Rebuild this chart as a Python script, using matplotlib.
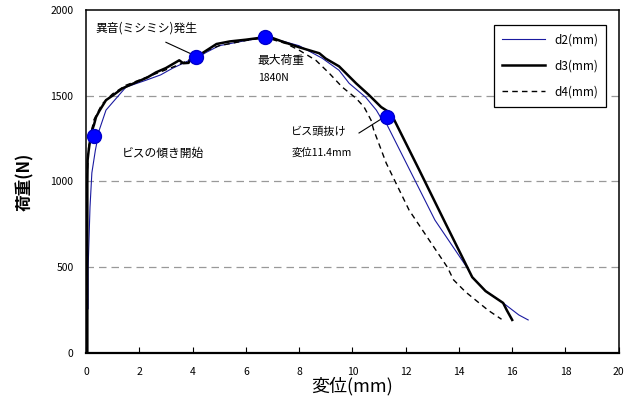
import numpy as np
import matplotlib
matplotlib.use("Agg")
import matplotlib.pyplot as plt

plt.rcParams['font.family'] = ['Noto Sans CJK JP', 'DejaVu Sans']

# d2 (blue thin)
d2_x = [0.04, 0.04, 0.08, 0.08, 0.15, 0.22, 0.35, 0.5, 0.75, 1.0, 1.5, 2.25, 2.8, 3.24,
        3.88, 4.14, 4.5, 5.0, 5.5, 6.0, 6.73, 7.3, 8.0, 8.87, 9.5, 9.88, 10.5, 10.9,
        11.12, 11.3, 13.1, 14.3, 14.5, 15.0, 15.66, 16.25, 16.6]
d2_y = [0, 250, 260, 500, 850, 1050, 1180, 1300, 1415, 1460, 1549, 1589, 1620, 1658,
        1705, 1715, 1750, 1790, 1805, 1820, 1838, 1820, 1790, 1717, 1647, 1571, 1490, 1415,
        1357, 1330, 775, 500, 443, 362, 293, 223, 194]

# d3 (black thick)
d3_x = [0.05, 0.05, 0.06, 0.1, 0.19, 0.3, 0.375, 0.5, 0.75, 1.0, 1.37, 1.88, 2.3, 2.63,
        3.0, 3.5, 3.65, 3.85, 4.0, 4.2, 4.6, 4.9, 5.4, 6.0, 6.73, 7.0, 7.3, 8.0, 8.76,
        9.0, 9.5, 10.14, 10.63, 11.08, 11.45, 12.5, 13.5, 14.5, 15.0, 15.66, 15.8, 16.0]
d3_y = [0, 990, 1124, 1180, 1280, 1330, 1374, 1410, 1473, 1500, 1542, 1577, 1605, 1635,
        1660, 1705, 1688, 1690, 1734, 1730, 1770, 1800, 1815, 1825, 1840, 1835, 1818, 1781, 1746,
        1715, 1670, 1571, 1502, 1433, 1396, 1070, 755, 443, 362, 293, 250, 194]

# d4 (black dashed)
d4_x = [0.03, 0.03, 0.1, 0.2, 0.3, 0.6, 1.0, 1.5, 2.0, 2.5, 3.0, 3.5, 4.0, 4.5, 5.0,
        6.0, 6.73, 7.5, 8.0, 8.63, 9.13, 9.62, 10.14, 10.44, 10.7, 10.8, 11.27, 12.13,
        13.57, 13.8, 14.25, 15.1, 15.6]
d4_y = [0, 1000, 1200, 1290, 1360, 1450, 1510, 1560, 1590, 1620, 1650, 1680, 1720, 1760, 1790,
        1820, 1838, 1803, 1764, 1705, 1630, 1549, 1484, 1433, 1357, 1300, 1107, 833,
        500, 427, 357, 250, 198]

mark_x = [0.31, 4.14, 6.73, 11.3]
mark_y = [1263, 1723, 1839, 1374]

fig = plt.figure(figsize=(6.38, 4.01), dpi=100)
ax = fig.add_axes([0.1348, 0.119, 0.835, 0.857])

for yg in [500, 1000, 1500]:
    ax.axhline(yg, color='#999999', lw=0.9, ls=(0, (6, 4)), zorder=0)

ax.plot(d2_x, d2_y, color='#1a1aa0', lw=0.8, label='d2(mm)')
ax.plot(d3_x, d3_y, color='black', lw=1.8, label='d3(mm)')
ax.plot(d4_x, d4_y, color='black', lw=1.0, ls=(0, (4, 3)), label='d4(mm)')
ax.plot(mark_x, mark_y, 'o', ms=10, color='#0000ff', mec='#0000cc', zorder=5)

ax.set_xlim(0, 20)
ax.set_ylim(0, 2000)
ax.set_xticks(np.arange(0, 21, 2))
ax.set_yticks(np.arange(0, 2001, 500))
ax.tick_params(axis='x', direction='in', length=4, labelsize=7.5, pad=10)
ax.tick_params(axis='y', length=0, labelsize=7.5, pad=9)
for s in ax.spines.values():
    s.set_linewidth(1.1)
ax.spines['bottom'].set_linewidth(1.6)

ax.set_xlabel('変位(mm)', fontsize=13, labelpad=0)
ax.set_ylabel('荷重(N)', fontsize=12, fontweight='bold', labelpad=12)

ax.text(0.35, 1890, '異音(ミシミシ)発生', fontsize=8.5, va='center')
ax.plot([3.0, 4.05], [1810, 1735], color='black', lw=0.8)
ax.text(6.45, 1705, '最大荷重', fontsize=8.5, va='center')
ax.text(6.45, 1600, '1840N', fontsize=7.5, va='center')
ax.text(1.35, 1165, 'ビスの傾き開始', fontsize=8.5, va='center')
ax.text(7.7, 1290, 'ビス頭抜け', fontsize=8, va='center')
ax.text(7.7, 1170, '変位11.4mm', fontsize=7.5, va='center')
ax.plot([10.25, 11.15], [1282, 1370], color='black', lw=0.8)

leg = ax.legend(loc='upper right', bbox_to_anchor=(0.977, 0.955), borderaxespad=0,
                fontsize=8.5, handlelength=3.6, fancybox=False, framealpha=1,
                edgecolor='black', borderpad=0.7, labelspacing=1.1)
leg.get_frame().set_linewidth(0.9)

fig.savefig('out.png', dpi=100)
